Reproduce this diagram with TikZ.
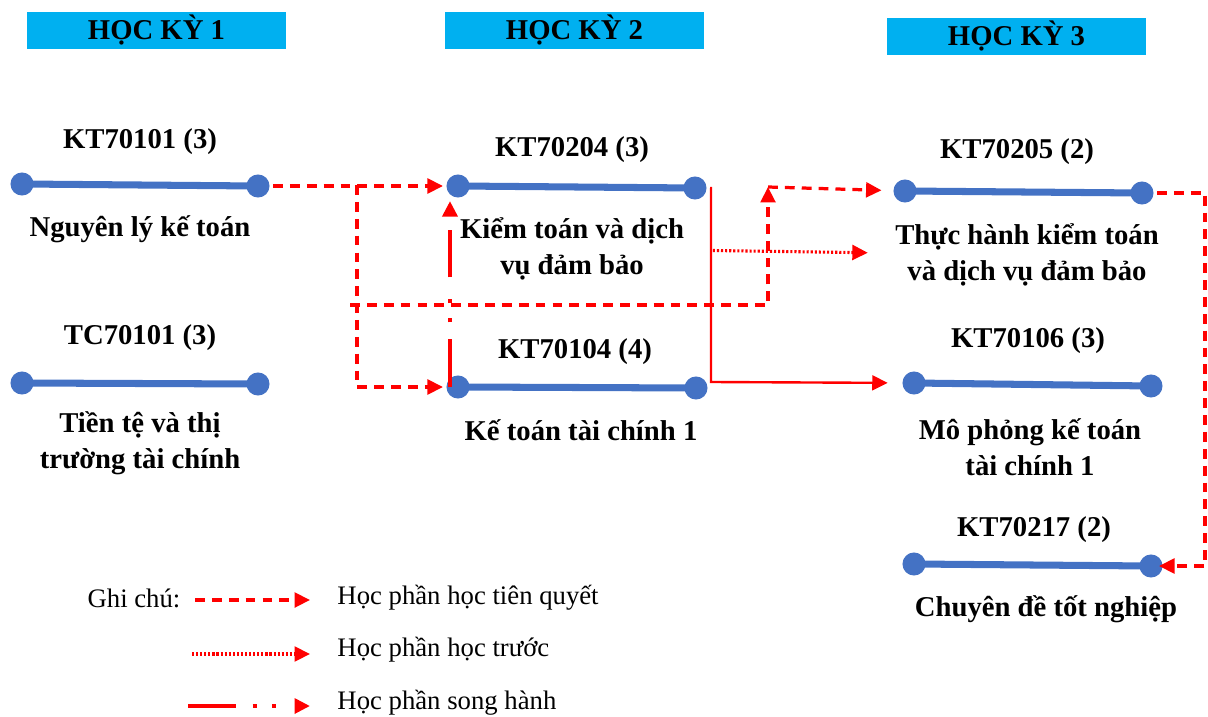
\documentclass[tikz,border=0pt]{standalone}
\usepackage{fontspec}
\setmainfont{Liberation Serif}
\usepackage{tikz}
\usetikzlibrary{arrows.meta}
\definecolor{cblue}{HTML}{4472C4}
\definecolor{hkblue}{HTML}{00B0F0}

\begin{document}
\begin{tikzpicture}[x=0.025cm, y=-0.025cm,
    hk/.style={fill=hkblue, inner sep=0pt, minimum width=184pt, minimum height=26.3pt, font=\bfseries\fontsize{20.4}{24}\selectfont},
    dot/.style={circle, fill=cblue, inner sep=0pt, minimum size=16.4pt},
    course/.style={cblue, line width=5pt},
    code/.style={font=\bfseries\fontsize{20.4}{24}\selectfont},
    title/.style={align=center, font=\bfseries\fontsize{20.4}{25.5}\selectfont},
    note/.style={font=\fontsize{19}{22}\selectfont},
    tip/.style={-{Triangle[length=11pt,width=10.5pt]}},
    prereq/.style={red, line width=2.3pt, dash pattern=on 7pt off 5pt, tip},
    prior/.style={red, line width=2.2pt, dash pattern=on 1.5pt off 1.4pt, tip},
    coreq/.style={red, line width=3.3pt, dash pattern=on 34pt off 12pt on 3.2pt off 10.5pt on 3.2pt off 15pt, tip},
    direct/.style={red, line width=1.7pt, tip}]
    \useasboundingbox (0,0) rectangle (1208,716);

    % hoc ky
    \node[hk] (hk1) at (156.5,30.5) {HỌC KỲ 1};
    \node[hk] (hk2) at (574.5,30.5) {HỌC KỲ 2};
    \node[hk] (hk3) at (1016.5,36.5) {HỌC KỲ 3};

    % hoc phan
    \draw[course] (22,184) node[dot] (k101a) {} -- (258,186) node[dot] (k101b) {};
    \node[code] (c101) at (140,142) {KT70101 (3)};
    \node[title] (t101) at (140,229) {Nguyên lý kế toán};

    \draw[course] (22,383) node[dot] (tc101a) {} -- (258,384) node[dot] (tc101b) {};
    \node[code] (ctc101) at (140,338) {TC70101 (3)};
    \node[title] (ttc101) at (140,443) {Tiền tệ và thị\\trường tài chính};

    \draw[course] (458,186) node[dot] (k204a) {} -- (695,188) node[dot] (k204b) {};
    \node[code] (c204) at (572,150) {KT70204 (3)};
    \node[title] (t204) at (572,248.5) {Kiểm toán và dịch\\vụ đảm bảo};

    \draw[course] (458,387) node[dot] (k104a) {} -- (696,388) node[dot] (k104b) {};
    \node[code] (c104) at (575,352) {KT70104 (4)};
    \node[title] (t104) at (581,430) {Kế toán tài chính 1};

    \draw[course] (905,191) node[dot] (k205a) {} -- (1142,193) node[dot] (k205b) {};
    \node[code] (c205) at (1017,152) {KT70205 (2)};
    \node[title] (t205) at (1027,255) {Thực hành kiểm toán\\và dịch vụ đảm bảo};

    \draw[course] (914,383) node[dot] (k106a) {} -- (1151,386) node[dot] (k106b) {};
    \node[code] (c106) at (1028,341) {KT70106 (3)};
    \node[title] (t106) at (1030,447.5) {Mô phỏng kế toán\\tài chính 1};

    \draw[course] (914,564) node[dot] (k217a) {} -- (1151,566) node[dot] (k217b) {};
    \node[code] (c217) at (1034,530) {KT70217 (2)};
    \node[title] (t217) at (1046,609) {Chuyên đề tốt nghiệp};

    % dieu kien
    \coordinate (j1) at (357,185);
    \coordinate (j2) at (350,305);
    \coordinate (j3) at (768,187);
    \coordinate (j4) at (711,382);
    \coordinate (j5) at (1205,193);

    \draw[prereq] (k101b) -- (k204a);
    \draw[prereq] (j1) |- (k104a);
    \draw[prereq] (j2) -| (j3);
    \draw[prereq, shorten >=6pt] (j3) -- (k205a);
    \draw[coreq] ([xshift=-5.7pt]k104a.center) -- ([xshift=-5.7pt]k204a.south);
    \draw[direct, shorten >=8pt] (k204b) -| (j4) -- (k106a);
    \draw[prior, shorten <=17pt, shorten >=16pt] (t204) -- (t205);
    \draw[prereq, shorten >=-5pt] (k205b) -- (j5) |- (k217b);

    % ghi chu
    \node[note] (ghichu) at (134,598) {Ghi chú:};
    \coordinate (g1a) at (195,600);
    \coordinate (g1b) at (310,600);
    \coordinate (g2a) at (192,654);
    \coordinate (g2b) at (310,654);
    \coordinate (g3a) at (188,706);
    \coordinate (g3b) at (310,706);
    \draw[prereq] (g1a) -- (g1b);
    \draw[prior] (g2a) -- (g2b);
    \draw[coreq] (g3a) -- (g3b);
    \node[note, anchor=west] (g1) at (332.5,598) {Học phần học tiên quyết};
    \node[note, anchor=west] (g2) at (332.5,650) {Học phần học trước};
    \node[note, anchor=west] (g3) at (332.5,703) {Học phần song hành};
\end{tikzpicture}
\end{document}
